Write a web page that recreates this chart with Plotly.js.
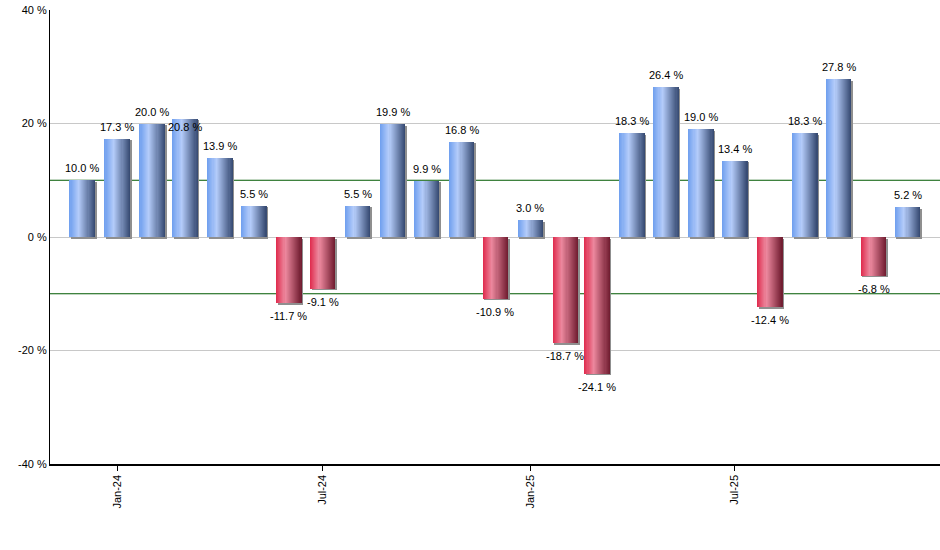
<!DOCTYPE html>
<html>
<head>
<meta charset="utf-8">
<script src="https://cdn.plot.ly/plotly-3.0.1.min.js"></script>
<style>
html,body{margin:0;padding:0;background:#fff;}
#chart{width:940px;height:550px;}
</style>
</head>
<body>
<div id="chart"></div>
<script>
// ---- data ----
const months = ['2023-12-01','2024-01-01','2024-02-01','2024-03-01','2024-04-01','2024-05-01',
  '2024-06-01','2024-07-01','2024-08-01','2024-09-01','2024-10-01','2024-11-01',
  '2024-12-01','2025-01-01','2025-02-01','2025-03-01','2025-04-01','2025-05-01',
  '2025-06-01','2025-07-01','2025-08-01','2025-09-01','2025-10-01','2025-11-01','2025-12-01'];
const values = [10.0,17.3,20.0,20.8,13.9,5.5,-11.7,-9.1,5.5,19.9,9.9,16.8,
  -10.9,3.0,-18.7,-24.1,18.3,26.4,19.0,13.4,-12.4,18.3,27.8,-6.8,5.2];
const tickDates = ['2024-01-01','2024-07-01','2025-01-01','2025-07-01'];
const tickLabels = ['Jan-24','Jul-24','Jan-25','Jul-25'];
const yTicks = [-40,-20,0,20,40];
const yTickLabels = ['-40 %','-20 %','0 %','20 %','40 %'];

// ---- styling ----
const DAY = 86400000;
const W = 22.6 * DAY;
const N = 24;
const blueStops = [[0,[110,158,238]],[0.36,[180,204,250]],[1,[52,72,112]]];
const redStops  = [[0,[223,42,76]],[0.36,[236,136,158]],[1,[110,26,46]]];
function interp(stops,t){
  for(let k=0;k<stops.length-1;k++){
    const a=stops[k],b=stops[k+1];
    if(t>=a[0]&&t<=b[0]){
      const f=(t-a[0])/(b[0]-a[0]);
      const c=a[1].map((v,j)=>Math.round(v+(b[1][j]-v)*f));
      return 'rgb('+c.join(',')+')';
    }
  }
  const l=stops[stops.length-1][1];return 'rgb('+l.join(',')+')';
}

const traces = [];
// shadow
traces.push({
  type:'bar', x:months, y:values, base:values.map(()=>-0.27),
  width:W, offset:-W/2 + 1.4*DAY,
  marker:{color:'#8f8f8f', line:{width:0}}, hoverinfo:'skip', showlegend:false
});
for(let i=0;i<N;i++){
  const t=(i+0.5)/N;
  traces.push({
    type:'bar', x:months, y:values,
    width:W*(1-i/N), offset:-W/2 + i*W/N,
    marker:{color:values.map(v=> v>=0 ? interp(blueStops,t) : interp(redStops,t)), line:{width:0}},
    hoverinfo:'skip', showlegend:false
  });
}

const labelShiftOverride = {3:-8};
const annotations = values.map((v,i)=>({
  x:months[i], y:v, xref:'x', yref:'y',
  text:v.toFixed(1)+' %', showarrow:false,
  yshift: (i in labelShiftOverride) ? labelShiftOverride[i] : (v>=0 ? 12 : -13),
  font:{family:'Liberation Sans, Arial, sans-serif', size:11, color:'#000'}
}));

const layout = {
  width:940, height:550,
  margin:{l:50,r:0,t:10,b:86,pad:0},
  paper_bgcolor:'#fff', plot_bgcolor:'#fff',
  barmode:'overlay', bargap:0,
  showlegend:false,
  font:{family:'Liberation Sans, Arial, sans-serif', size:11, color:'#000'},
  xaxis:{
    type:'date', range:['2023-11-02 12:00','2025-12-29 18:00'],
    tickmode:'array', tickvals:tickDates, ticktext:tickLabels, tickangle:-90,
    ticks:'outside', ticklen:5, tickwidth:1, tickcolor:'#000',
    showgrid:false, zeroline:false,
    showline:true, linecolor:'#000', linewidth:1.5,
    tickfont:{size:11, color:'#000'}, fixedrange:true
  },
  yaxis:{
    range:[-40,40], tickmode:'array', tickvals:yTicks, ticktext:yTickLabels,
    ticks:'', showgrid:true, gridcolor:'#c8c8c8', gridwidth:1,
    zeroline:false, showline:true, linecolor:'#000', linewidth:1,
    tickfont:{size:11, color:'#000'}, fixedrange:true
  },
  shapes:[
    {type:'line', xref:'paper', yref:'y', x0:0, x1:1, y0:10, y1:10, line:{color:'#005a00', width:1}, layer:'below'},
    {type:'line', xref:'paper', yref:'y', x0:0, x1:1, y0:-10, y1:-10, line:{color:'#005a00', width:1}, layer:'below'}
  ],
  annotations:annotations
};

Plotly.newPlot('chart', traces, layout, {staticPlot:true, displayModeBar:false});
</script>
</body>
</html>
